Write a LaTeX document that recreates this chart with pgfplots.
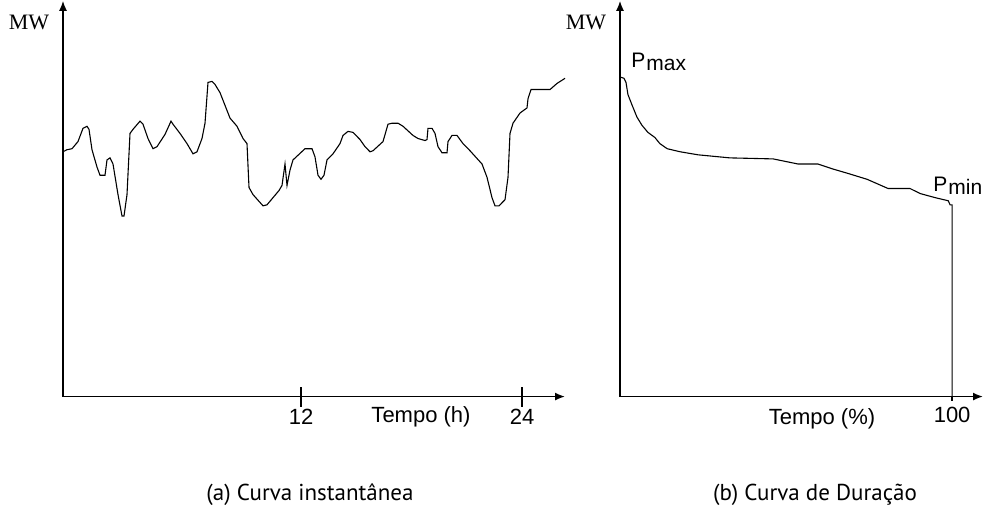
\documentclass[border=0pt]{standalone}
\usepackage{fontspec}
\setmainfont{Liberation Sans}
\newfontfamily\mwfont{Liberation Serif}
\newfontfamily\capfont{PT Sans}
\usepackage{pgfplots}
\pgfplotsset{compat=1.18}
\usetikzlibrary{arrows.meta}

% 1 px of the reference = 0.5pt
\pgfplotsset{
  sketch/.style={
    scale only axis, axis lines=left, clip=false,
    axis line style={line width=0.8pt, -{Latex[length=5pt,width=4pt]}},
    ytick=\empty,
    tick style={black, line width=0.8pt},
    every tick label/.append style={font=\fontsize{11}{13}\selectfont},
  },
  curve/.style={black, line width=0.55pt, no marks},
}

\begin{document}
\begin{tikzpicture}
\begin{scope}[x=0.5pt,y=-0.5pt]
\useasboundingbox (0,0) rectangle (994,517);
\end{scope}

% (a) instantaneous load curve
\begin{axis}[sketch, at={(31.5pt,-197.5pt)}, anchor=south west,
  width=251pt, height=194pt, xmin=0, xmax=502, ymin=0, ymax=388,
  xtick={238,459}, xticklabels={12,24},
  xtick align=center, major tick length=10pt,
  xticklabel style={yshift=2pt}]
\addplot[curve] coordinates {
(0,240) (4,242) (9,243) (15,250) (20,263) (24,265) (26,262) (29,242)
(34,225) (37,217) (42,217) (44,232) (47,234) (50,228) (55,198) (59,177)
(61,177) (64,198) (67,258) (70,262) (77,270) (80,267) (85,253) (90,243)
(94,245) (102,257) (108,270) (110,267) (117,258) (124,248) (130,238)
(134,240) (139,253) (142,268) (145,308) (149,309) (152,306) (157,298)
(167,273) (174,265) (180,253) (184,248) (186,205) (190,198) (200,187)
(204,188) (216,202) (219,207) (222,228) (224,207) (227,222) (230,232)
(242,243) (249,243) (252,235) (255,217) (258,213) (261,217) (264,232)
(270,238) (277,248) (280,256) (285,260) (290,259) (297,252) (302,245)
(307,240) (310,241) (320,250) (325,267) (329,268) (335,268) (340,265)
(350,256) (355,253) (362,251) (364,252) (365,263) (369,263) (372,258)
(375,245) (379,239) (384,239) (385,250) (389,256) (394,256) (400,248)
(407,241) (419,228) (424,215) (429,195) (432,187) (436,187) (442,193)
(445,215) (447,258) (450,268) (457,278) (464,283) (465,292) (468,301)
(477,301) (487,301) (494,307) (502,312)
};
\end{axis}

% (b) load duration curve
\begin{axis}[sketch, at={(310pt,-197.5pt)}, anchor=south west,
  width=181.5pt, height=194pt, xmin=0, xmax=109.3, ymin=0, ymax=388,
  xtick={100}, xticklabels={100},
  xtick align=outside, major tick length=2pt]
\addplot[curve] coordinates {
(0,313) (0.3,313) (1.2,312) (1.8,308) (2.4,296) (3.6,286) (5.1,274)
(6.6,266) (8.4,259) (10.5,254) (12.0,248) (14.2,243) (18.1,240)
(23.5,237) (33.1,234) (46.1,233) (53.6,228) (59.6,228) (64.2,223)
(68.4,219) (74.4,213) (80.7,204) (87.3,204) (90.4,199) (94.9,195)
(98.8,192) (99.4,188) (100,188) (100,0)
};
\end{axis}

\begin{scope}[x=0.5pt,y=-0.5pt]
\node[font=\mwfont\fontsize{11}{13}\selectfont] at (29,21) {MW};
\node[font=\mwfont\fontsize{11}{13}\selectfont] at (586,21) {MW};
\node[font=\fontsize{11}{13}\selectfont] at (421,415) {Tempo (h)};
\node[font=\fontsize{11}{13}\selectfont] at (822,417) {Tempo (\%)};
\node[font=\fontsize{10.5}{12}\selectfont, anchor=base west, inner sep=0pt] at (631,66) {P\kern0.5pt\raisebox{-0.15em}{max}};
\node[font=\fontsize{10.5}{12}\selectfont, anchor=base west, inner sep=0pt] at (933,190) {P\kern0.5pt\raisebox{-0.15em}{min}};
\node[font=\capfont\fontsize{11.5}{14}\selectfont] at (310,493) {(a) Curva instantânea};
\node[font=\capfont\fontsize{11.5}{14}\selectfont] at (815,493) {(b) Curva de Duração};
\end{scope}
\end{tikzpicture}
\end{document}
